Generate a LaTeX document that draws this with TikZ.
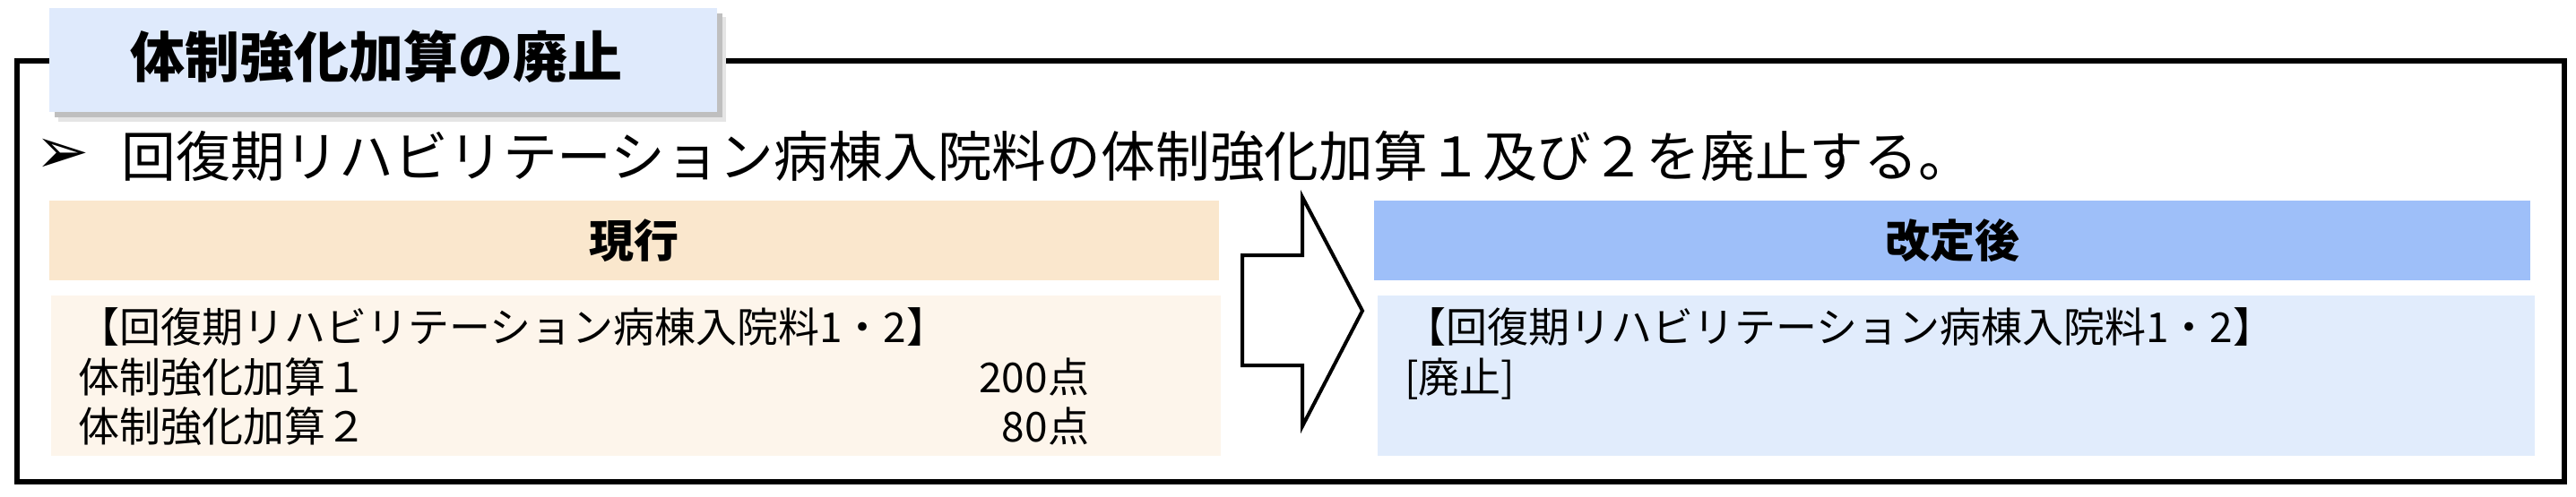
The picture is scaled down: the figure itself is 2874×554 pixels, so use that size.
\documentclass[tikz,border=0pt]{standalone}
\usepackage{fontspec}
\setmainfont{Noto Sans CJK JP}
\newfontfamily\dvfont{DejaVu Sans}
\definecolor{tabblue}{HTML}{DFEAFC}
\definecolor{hdrorange}{HTML}{FAE7CD}
\definecolor{bodyorange}{HTML}{FDF5EB}
\definecolor{hdrblue}{HTML}{9EBFF9}
\definecolor{bodyblue}{HTML}{E1ECFC}
\begin{document}
\begin{tikzpicture}[x=0.5pt,y=-0.5pt,
  bodytxt/.style={inner sep=0pt, outer sep=0pt, font=\fontsize{23}{27}\selectfont},
  hdrtxt/.style={inner sep=0pt, outer sep=0pt, font=\fontsize{25}{30}\selectfont\bfseries}]
\useasboundingbox (0,0) rectangle (2874,554);
% outer frame
\draw[line width=3pt] (18.5,68) rectangle (2861,537.5);
% title tab with shadow
\fill[black!10] (65,19) rectangle (810,136);
\fill[black!25] (61,15) rectangle (806,131);
\fill[tabblue] (55,9) rectangle (800,125);
\node[inner sep=0pt, font=\fontsize{30.5}{36}\selectfont\bfseries] (title) at (420,63.5) {体制強化加算の廃止};
% lead line
\node[inner sep=0pt, font=\dvfont\fontsize{36}{40}\selectfont] (bullet) at (70,174) {➢};
\node[anchor=base west, inner sep=0pt, font=\fontsize{30.4}{36}\selectfont] (lead) at (135,197) {回復期リハビリテーション病棟入院料の体制強化加算１及び２を廃止する。};
% current (left)
\fill[hdrorange] (55,224) rectangle (1360,313);
\node[hdrtxt] (genko) at (707.5,268.5) {現行};
\fill[bodyorange] (57,330) rectangle (1362,509);
\node[bodytxt, anchor=base west] (l1) at (87,382) {【回復期リハビリテーション病棟入院料1・2】};
\node[bodytxt, anchor=base west] (l2) at (87,438) {体制強化加算１};
\node[bodytxt, anchor=base east] (p2) at (1215,438) {200点};
\node[bodytxt, anchor=base west] (l3) at (87,493) {体制強化加算２};
\node[bodytxt, anchor=base east] (p3) at (1215,493) {80点};
% arrow
\draw[line width=2pt, fill=white, line join=miter] (1386,285) -- (1453,285) -- (1453,220) -- (1520,347) -- (1453,476) -- (1453,408) -- (1386,408) -- cycle;
% revised (right)
\fill[hdrblue] (1533,224) rectangle (2823,313);
\node[hdrtxt] (kaitei) at (2178,268.5) {改定後};
\fill[bodyblue] (1537,330) rectangle (2828,509);
\node[bodytxt, anchor=base west] (r1) at (1567,382) {【回復期リハビリテーション病棟入院料1・2】};
\node[bodytxt, anchor=base west] (r2) at (1567,438) {[廃止]};
\end{tikzpicture}
\end{document}
